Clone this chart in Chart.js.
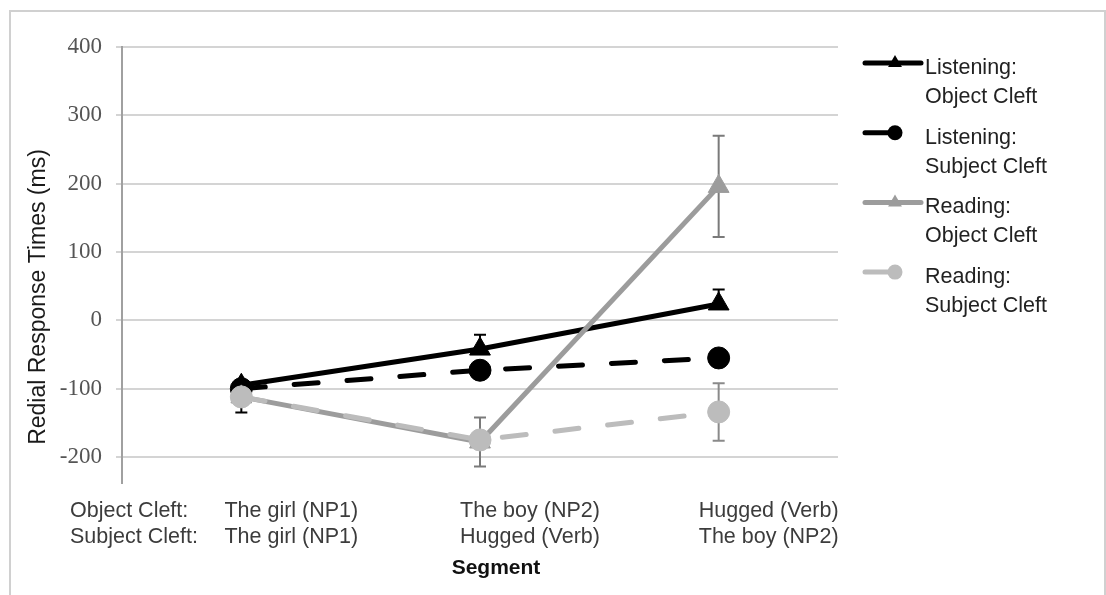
<!DOCTYPE html>
<html>
<head>
<meta charset="utf-8">
<script src="https://cdn.jsdelivr.net/npm/chart.js@4"></script>
<style>
  html, body { margin: 0; padding: 0; background: #fff; }
  canvas { display: block; }
</style>
</head>
<body>
<canvas id="c" width="1106" height="595"></canvas>
<script>
// Segments of the sentence, one per position on the x axis
const objectCleftSegments = ['The girl (NP1)', 'The boy (NP2)', 'Hugged (Verb)'];
const subjectCleftSegments = ['The girl (NP1)', 'Hugged (Verb)', 'The boy (NP2)'];
const rowLabels = ['Object Cleft:', 'Subject Cleft:'];
const yTicks = [-200, -100, 0, 100, 200, 300, 400];

// Residual response times (ms)
const listeningObject = [-95, -42, 24];
const listeningSubject = [-100, -73, -55];
const readingObject = [-112, -178, 196];
const readingSubject = [-112, -175, -134];

// Error bar extents (ms) above / below each mean
const listeningObjectErrUp = [0, 21, 21];
const listeningObjectErrDown = [0, 0, 0];
const listeningSubjectErrUp = [0, 0, 0];
const listeningSubjectErrDown = [35, 0, 0];
const readingObjectErrUp = [0, 36, 74];
const readingObjectErrDown = [0, 36, 74];
const readingSubjectErrUp = [0, 0, 42];
const readingSubjectErrDown = [0, 0, 42];

const seriesNames = [
  ['Listening:', 'Object Cleft'],
  ['Listening:', 'Subject Cleft'],
  ['Reading:', 'Object Cleft'],
  ['Reading:', 'Subject Cleft']
];

const categories = objectCleftSegments.map((s, i) => [s, subjectCleftSegments[i]]);

const SANS = '"Liberation Sans", Arial, sans-serif';
const SERIF = '"Liberation Serif", "Times New Roman", serif';

function series(name, data, up, down, color, errColor, dash, style, radius, order) {
  return {
    label: name.join(' '),
    legendLines: name,
    data: data,
    errUp: up,
    errDown: down,
    errColor: errColor,
    borderColor: color,
    backgroundColor: color,
    pointBackgroundColor: color,
    pointBorderColor: color,
    borderWidth: 5,
    borderDash: dash,
    borderCapStyle: 'round',
    borderJoinStyle: 'round',
    pointStyle: style,
    pointRadius: radius,
    pointBorderWidth: 1,
    tension: 0,
    fill: false,
    order: order
  };
}

const datasets = [
  series(seriesNames[0], listeningObject, listeningObjectErrUp, listeningObjectErrDown, '#000000', '#000000', [], 'triangle', 12, 4),
  series(seriesNames[1], listeningSubject, listeningSubjectErrUp, listeningSubjectErrDown, '#000000', '#000000', [24, 29], 'circle', 11, 3),
  series(seriesNames[2], readingObject, readingObjectErrUp, readingObjectErrDown, '#9c9c9c', '#7a7a7a', [], 'triangle', 12, 2),
  series(seriesNames[3], readingSubject, readingSubjectErrUp, readingSubjectErrDown, '#bcbcbc', '#8a8a8a', [24, 29], 'circle', 11, 1)
];

function drawMarker(ctx, style, x, y, r, color) {
  ctx.fillStyle = color;
  ctx.beginPath();
  if (style === 'triangle') {
    ctx.moveTo(x, y - r);
    ctx.lineTo(x + r * 0.866, y + r * 0.5);
    ctx.lineTo(x - r * 0.866, y + r * 0.5);
    ctx.closePath();
  } else {
    ctx.arc(x, y, r, 0, Math.PI * 2);
  }
  ctx.fill();
}

const decor = {
  id: 'decor',
  beforeDraw(chart) {
    const ctx = chart.ctx;
    ctx.save();
    ctx.fillStyle = '#ffffff';
    ctx.fillRect(0, 0, chart.width, chart.height);
    ctx.strokeStyle = '#d0d0d0';
    ctx.lineWidth = 2;
    ctx.strokeRect(10, 11, 1095, 620);
    ctx.restore();
  },
  beforeDatasetsDraw(chart) {
    // error bars with end caps
    const ctx = chart.ctx;
    const xs = chart.scales.x, ys = chart.scales.y;
    ctx.save();
    chart.data.datasets.forEach(ds => {
      ctx.strokeStyle = ds.errColor;
      ctx.lineWidth = 2;
      ds.data.forEach((v, i) => {
        const up = ds.errUp[i], down = ds.errDown[i];
        if (!up && !down) return;
        const x = xs.getPixelForValue(i);
        const y0 = ys.getPixelForValue(v);
        const yTop = ys.getPixelForValue(v + up);
        const yBot = ys.getPixelForValue(v - down);
        ctx.beginPath();
        ctx.moveTo(x, yTop); ctx.lineTo(x, yBot);
        if (up) { ctx.moveTo(x - 6, yTop); ctx.lineTo(x + 6, yTop); }
        if (down) { ctx.moveTo(x - 6, yBot); ctx.lineTo(x + 6, yBot); }
        ctx.stroke();
      });
    });
    ctx.restore();
  },
  afterDraw(chart) {
    const ctx = chart.ctx;
    const area = chart.chartArea;
    ctx.save();

    // y axis title
    ctx.save();
    ctx.translate(39, 297);
    ctx.rotate(-Math.PI / 2);
    ctx.font = '23px ' + SANS;
    ctx.fillStyle = '#1a1a1a';
    ctx.textAlign = 'center';
    ctx.textBaseline = 'middle';
    ctx.fillText('Redial Response Times (ms)', 0, 0);
    ctx.restore();

    // row labels in front of the segment labels
    ctx.font = '21.5px ' + SANS;
    ctx.fillStyle = '#3c3c3c';
    ctx.textAlign = 'left';
    ctx.textBaseline = 'middle';
    rowLabels.forEach((t, i) => ctx.fillText(t, 70, 511 + i * 26));

    // x axis title
    ctx.font = 'bold 21px ' + SANS;
    ctx.fillStyle = '#111';
    ctx.textAlign = 'center';
    ctx.fillText('Segment', area.left + (area.right - area.left) / 2 + 16, 568);

    // legend
    const lx = area.right + 25;
    chart.data.datasets.forEach((ds, i) => {
      const y = 63 + i * 69.7;
      const isTri = ds.pointStyle === 'triangle';
      const mx = lx + 32;
      ctx.strokeStyle = ds.borderColor;
      ctx.lineWidth = 5;
      ctx.lineCap = 'round';
      ctx.setLineDash([]);
      ctx.beginPath();
      ctx.moveTo(lx + 2, y);
      ctx.lineTo(isTri ? lx + 58 : mx, y);
      ctx.stroke();
      drawMarker(ctx, ds.pointStyle, mx, y, isTri ? 8 : 7.5, ds.pointBackgroundColor);
      ctx.font = '21.5px ' + SANS;
      ctx.fillStyle = '#222';
      ctx.textAlign = 'left';
      ctx.textBaseline = 'middle';
      ds.legendLines.forEach((t, k) => ctx.fillText(t, lx + 62, y + 5 + k * 29));
    });
    ctx.restore();
  }
};

new Chart(document.getElementById('c'), {
  type: 'line',
  data: { labels: categories, datasets: datasets },
  plugins: [decor],
  options: {
    responsive: false,
    animation: false,
    devicePixelRatio: 1,
    layout: { padding: { top: 47, right: 268, bottom: 0, left: 0 } },
    plugins: { legend: { display: false }, tooltip: { enabled: false } },
    scales: {
      x: {
        type: 'category',
        offset: true,
        grid: { display: false, drawTicks: false },
        border: { display: false },
        ticks: {
          autoSkip: false,
          maxRotation: 0,
          labelOffset: 50,
          padding: 15,
          color: '#3c3c3c',
          font: { family: SANS, size: 21.5, lineHeight: 1.21 }
        },
        afterFit(scale) { scale.height = 112; }
      },
      y: {
        min: -238,
        max: 400,
        afterBuildTicks(scale) { scale.ticks = yTicks.map(v => ({ value: v })); },
        grid: { color: '#d4d4d4', lineWidth: 2, tickLength: 6 },
        border: { color: '#a0a0a0', width: 2 },
        ticks: {
          padding: 14,
          color: '#555555',
          font: { family: SERIF, size: 23 }
        },
        afterFit(scale) { scale.width = 122; }
      }
    }
  }
});
</script>
</body>
</html>
